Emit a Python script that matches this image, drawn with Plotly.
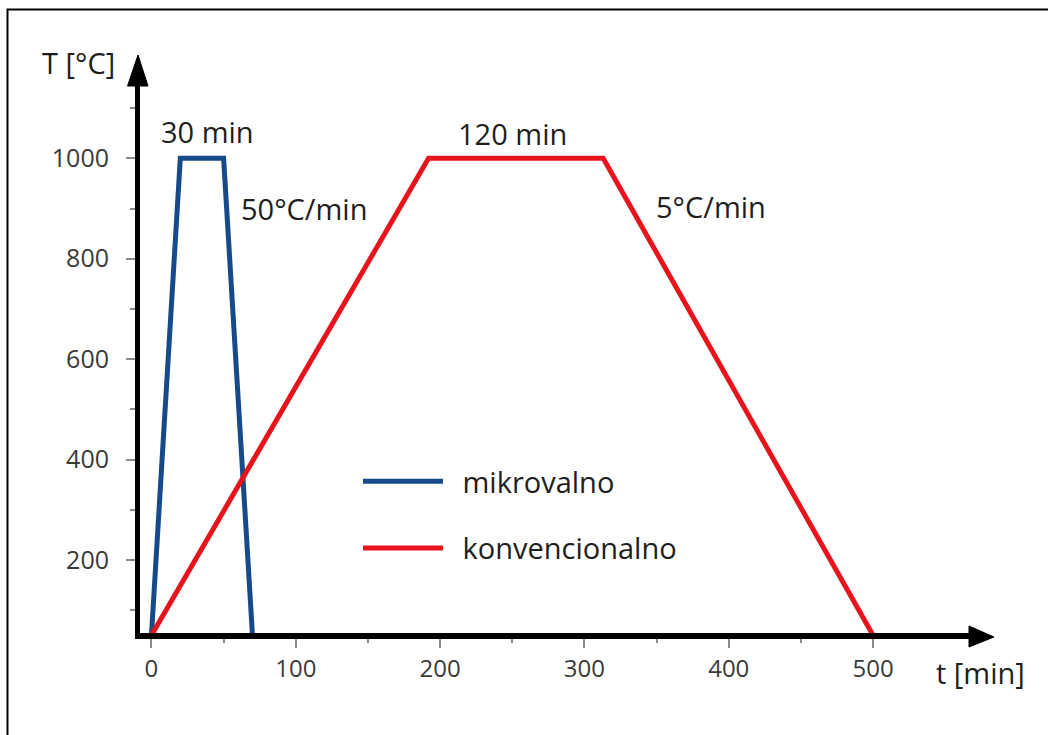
import plotly.graph_objects as go

# ---- data ----
micro_t = [0, 20, 50, 70]
micro_T = [50, 1000, 1000, 50]
conv_t = [0, 192, 313, 500]
conv_T = [50, 1000, 1000, 50]
series_names = ["mikrovalno", "konvencionalno"]
x_ticks = [0, 100, 200, 300, 400, 500]
x_minor = [50, 150, 250, 350, 450]
y_ticks = [200, 400, 600, 800, 1000]
y_minor = [100, 300, 500, 700, 900, 1100]

W, H = 1048, 735
L, R, T, B = 140, 70, 72, 102
PW, PH = W - L - R, H - T - B


def px(xp):
    return (xp - L) / PW


def py(yp):
    return (H - B - yp) / PH


FONT = "Open Sans"
fig = go.Figure()
fig.add_trace(go.Scatter(x=micro_t, y=micro_T, mode="lines", name="\u2002" + series_names[0],
                         legendgroup="a",
                         line=dict(color="#164a8b", width=5)))
fig.add_trace(go.Scatter(x=conv_t, y=conv_T, mode="lines", name="\u2002" + series_names[1],
                         legendgroup="b",
                         line=dict(color="#e8141b", width=5)))

ann_font = dict(family=FONT, size=29, color="#1e1e1e")
annotations = [
    dict(x=39, y=1054, text="30 min"),
    dict(x=250.5, y=1050, text="120 min"),
    dict(x=106, y=901, text="50°C/min"),
    dict(x=388, y=905, text="5°C/min"),
]
for a in annotations:
    a.update(xref="x", yref="y", showarrow=False, font=ann_font)
annotations.append(dict(xref="paper", yref="paper", x=px(78), y=py(63), text="T [°C]",
                        xanchor="center", yanchor="middle", showarrow=False, font=ann_font))
annotations.append(dict(xref="paper", yref="paper", x=px(981), y=py(672), text="t [min]",
                        xanchor="center", yanchor="middle", showarrow=False, font=ann_font))

shapes = [
    dict(type="rect", xref="paper", yref="paper", x0=px(7.5), y0=py(800), x1=px(1100), y1=py(9.5),
         line=dict(color="black", width=2), fillcolor="rgba(0,0,0,0)"),
    dict(type="path", xref="paper", yref="paper",
         path=f"M{px(127.5)},{py(86)} L{px(148)},{py(86)} L{px(138)},{py(55)} Z",
         fillcolor="black", line=dict(color="black", width=1)),
    dict(type="path", xref="paper", yref="paper",
         path=f"M{px(969)},{py(626)} L{px(969)},{py(647)} L{px(994)},{py(637)} Z",
         fillcolor="black", line=dict(color="black", width=1)),
]

fig.update_layout(
    width=W, height=H,
    margin=dict(l=L, r=R, t=T, b=B, pad=0),
    paper_bgcolor="white", plot_bgcolor="white",
    showlegend=True,
    legend=dict(x=px(358), y=py(456), xanchor="left", yanchor="top",
                font=dict(family=FONT, size=29, color="#1e1e1e"),
                itemwidth=80, traceorder="grouped", tracegroupgap=26,
                bgcolor="rgba(0,0,0,0)"),
    annotations=annotations,
    shapes=shapes,
    xaxis=dict(range=[-7.93, 572.7], showgrid=False, zeroline=False,
               showline=True, linecolor="black", linewidth=6,
               tickmode="array", tickvals=x_ticks,
               ticks="outside", ticklen=9, tickwidth=2, tickcolor="#8a8a8a",
               minor=dict(tickmode="array", tickvals=x_minor, ticks="outside",
                          ticklen=4, tickwidth=2, tickcolor="#8a8a8a"),
               tickfont=dict(family=FONT, size=24, color="#3a3a3a"),
               ticklabelstandoff=0),
    yaxis=dict(range=[54.6, 1171.9], showgrid=False, zeroline=False,
               showline=True, linecolor="black", linewidth=5,
               tickmode="array", tickvals=y_ticks,
               ticks="outside", ticklen=9, tickwidth=2, tickcolor="#8a8a8a",
               minor=dict(tickmode="array", tickvals=y_minor, ticks="outside",
                          ticklen=5, tickwidth=2, tickcolor="#8a8a8a"),
               tickfont=dict(family=FONT, size=25, color="#3a3a3a"),
               ticklabelstandoff=12),
)

fig.write_html("out.html", config={"displayModeBar": False},
               post_script="document.body.style.margin='0px';document.body.style.overflow='hidden';")
